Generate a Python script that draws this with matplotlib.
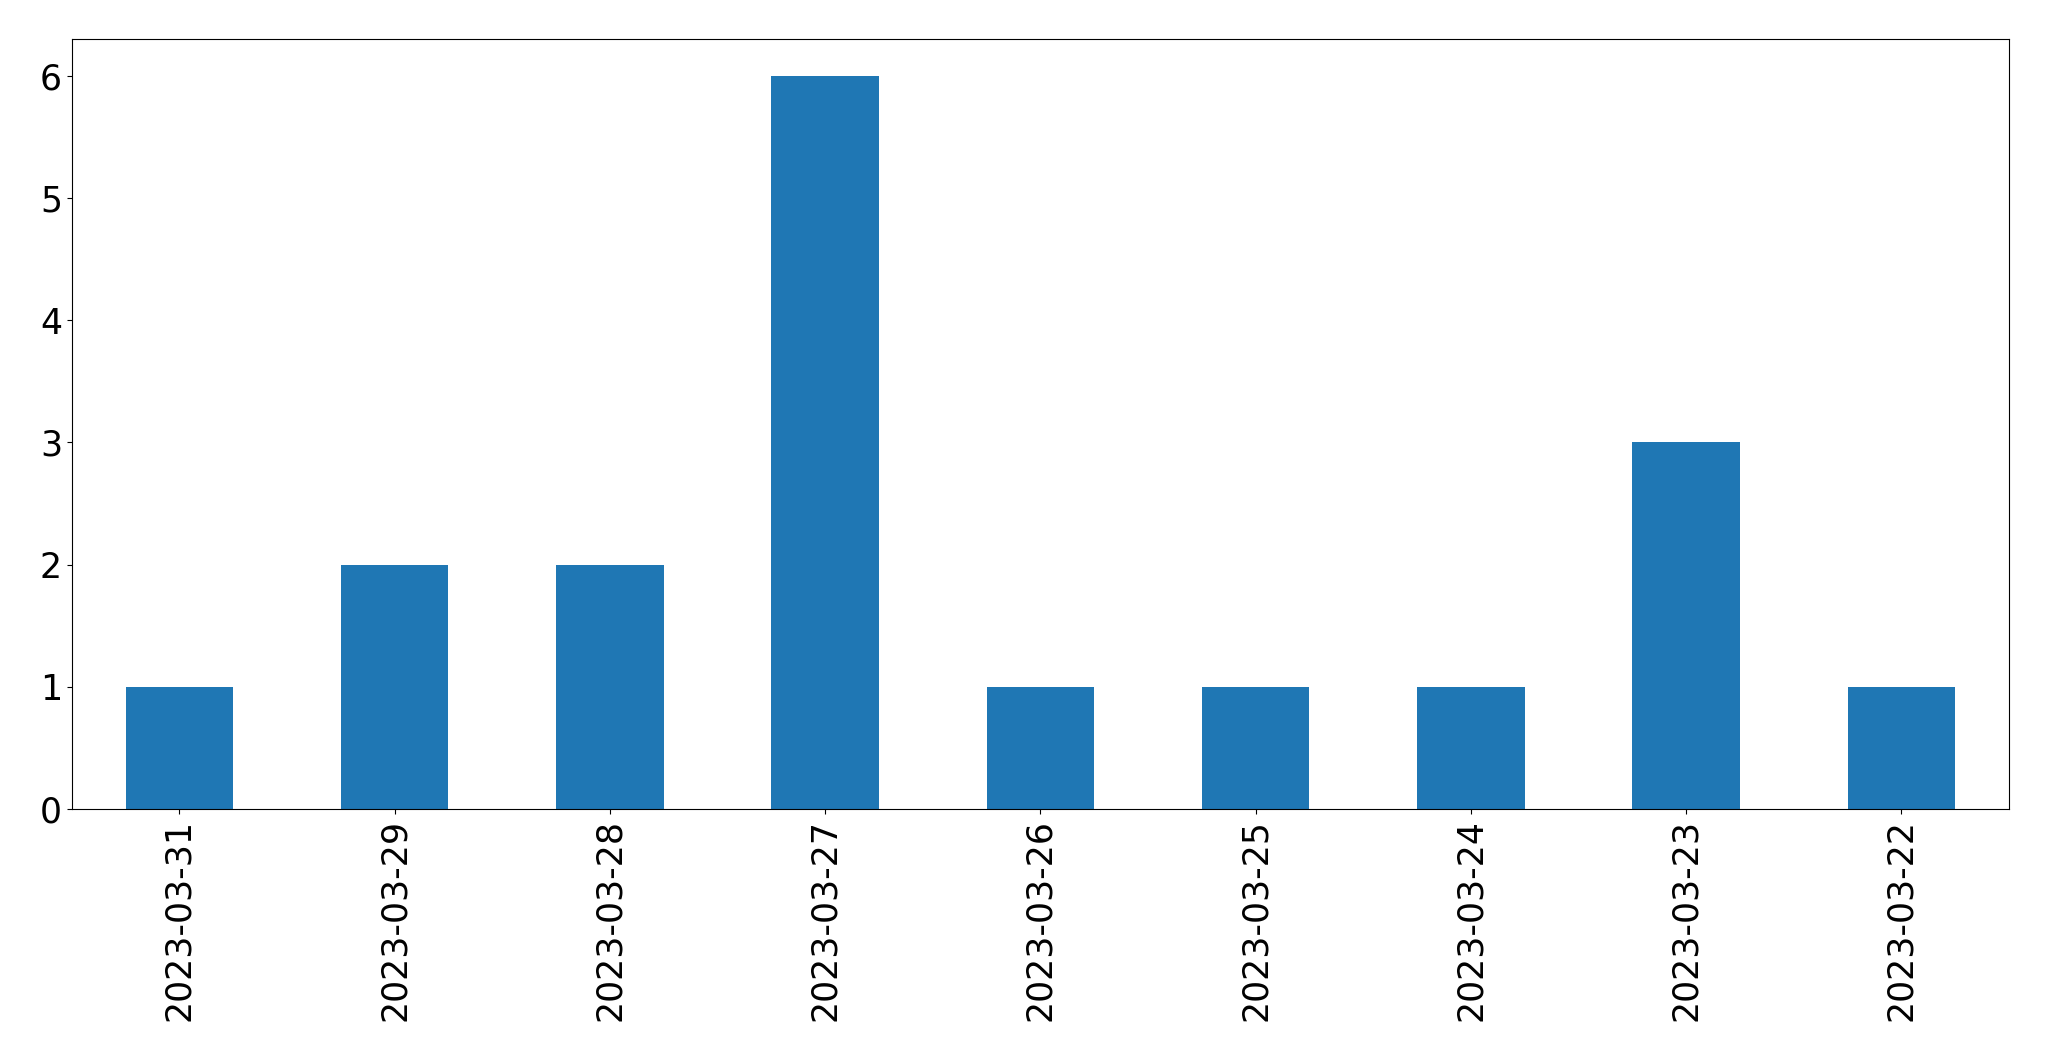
import matplotlib
matplotlib.use("Agg")
import matplotlib.pyplot as plt
import pandas as pd

# daily counts, newest first
dates = ["2023-03-31", "2023-03-29", "2023-03-28", "2023-03-27", "2023-03-26",
         "2023-03-25", "2023-03-24", "2023-03-23", "2023-03-22"]
counts = [1, 2, 2, 6, 1, 1, 1, 3, 1]

s = pd.Series(counts, index=dates)

fig, ax = plt.subplots(figsize=(20.49, 10.61), dpi=100)
s.plot(kind="bar", ax=ax, color="#1f77b4", width=0.5)

ax.tick_params(axis="both", labelsize=25)
plt.subplots_adjust(left=0.035, right=0.9805, top=0.963, bottom=0.2375)
plt.savefig("out.png")
